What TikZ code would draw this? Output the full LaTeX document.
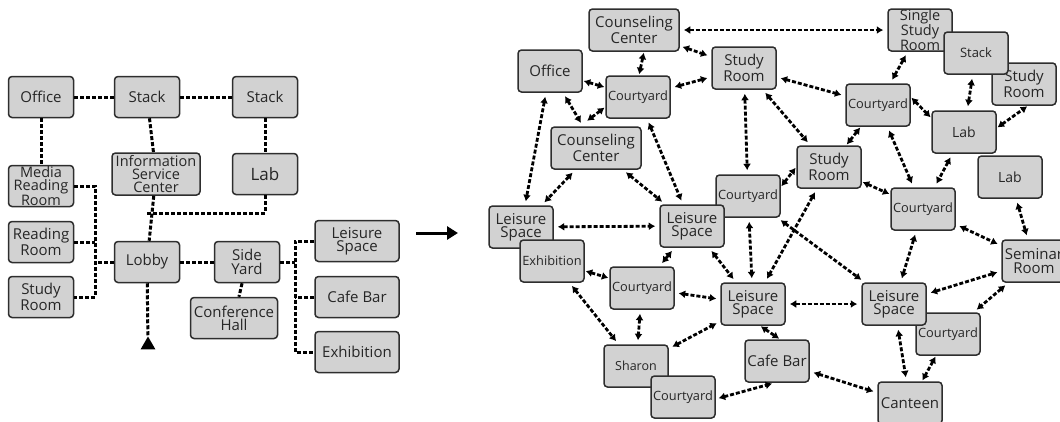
\documentclass[tikz,border=0pt]{standalone}
\usepackage{fontspec}
\setmainfont{Open Sans}
\usetikzlibrary{arrows.meta,shapes.geometric,calc}
\definecolor{boxfill}{HTML}{D2D2D2}
\definecolor{boxline}{HTML}{2E2E2E}
\definecolor{txt}{HTML}{262626}
\begin{document}
\begin{tikzpicture}[x=1pt,y=-1pt,
  box/.style={draw=boxline, fill=boxfill, line width=1.5pt, rounded corners=3.5pt,
    minimum width=64pt, minimum height=42pt, inner sep=0pt, align=center, text=txt,
    font=\fontsize{15}{13.3}\selectfont},
  three/.style={font=\fontsize{14.5}{13}\selectfont},
  lbox/.style={box, minimum width=65pt, minimum height=41pt},
  wbox/.style={box, minimum width=84pt, minimum height=41pt},
  sm/.style={font=\fontsize{12.8}{12}\selectfont},
  xs/.style={font=\fontsize{13}{12}\selectfont},
  lb/.style={font=\fontsize{14}{12}\selectfont},
  link/.style={line width=3pt, dash pattern=on 4pt off 2pt, draw=black},
  bi/.style={link, line width=2.8pt, {Latex[length=6.5pt,width=8pt]}-{Latex[length=6.5pt,width=8pt]},
    shorten <=4pt, shorten >=4pt},
  near/.style={shorten <=1pt, shorten >=1pt},
  bigarrow/.style={line width=3pt, -{Triangle[length=11pt,width=13pt]}}]
\useasboundingbox (0,0) rectangle (1060,421);

% ---------------- left diagram ----------------
\node[lbox] (office) at (41,97) {Office};
\node[lbox] (stack1) at (147,97) {Stack};
\node[lbox] (stack2) at (265,97) {Stack};
\node[lbox, three] (media) at (41,186) {Media\\Reading\\Room};
\node[lbox, three, minimum width=88pt, minimum height=42pt] (info) at (156,174) {Information\\Service\\Center};
\node[lbox, font=\fontsize{17}{13}\selectfont] (labl) at (265,174) {Lab};
\node[lbox] (reading) at (41,242) {Reading\\Room};
\node[lbox] (lobby) at (147,262) {Lobby};
\node[lbox] (side) at (247,262) {Side\\Yard};
\node[lbox] (studyl) at (41,297) {Study\\Room};
\node[lbox, minimum width=87pt] (conf) at (234,318) {Conference\\Hall};
\node[wbox] (leisl) at (357,241) {Leisure\\Space};
\node[wbox] (cafel) at (357,297) {Cafe Bar};
\node[wbox] (exhl) at (357,352) {Exhibition};
\node[regular polygon, regular polygon sides=3, fill=black, minimum size=17pt, inner sep=0pt] (tri) at (148,345) {};

\coordinate (jlab) at (147,213);
\coordinate (lbt) at (95,186);
\coordinate (lbb) at (95,297);
\coordinate (rbt) at (295,241);
\coordinate (rbb) at (295,352);

\draw[link] (office) -- (stack1);
\draw[link] (stack1) -- (stack2);
\draw[link] (office) -- (media);
\draw[link] (stack1) -- (info);
\draw[link] (stack2) -- (labl);
\draw[link] (labl) |- (jlab);
\draw[link] (info) -- (lobby);
\draw[link] (media) -- (lbt) -- (lbb) -- (studyl);
\draw[link] (reading) -- (reading -| lbt);
\draw[link] (lobby) -- (lobby -| lbt);
\draw[link] (lobby) -- (side);
\draw[link] (side) -- (conf);
\draw[link] (leisl) -- (rbt) -- (rbb) -- (exhl);
\draw[link] (cafel) -- (cafel -| rbt);
\draw[link] (side) -- (side -| rbt);
\draw[link] (lobby) -- (tri);

% ---------------- middle arrow ----------------
\coordinate (ma) at (416,233);
\coordinate (mb) at (458,233);
\draw[bigarrow] (ma) -- (mb);

% ---------------- right diagram ----------------
\node[box, minimum width=90pt] (cc1) at (634,30) {Counseling\\Center};
\node[box] (off2) at (550,71) {Office};
\node[box, sm] (cy1) at (638,97) {Courtyard};
\node[box] (sr1) at (744,68) {Study\\Room};
\node[box, minimum width=90pt] (cc2) at (596,148) {Counseling\\Center};
\node[box, sm] (cym) at (748,196) {Courtyard};
\node[box] (lsc) at (692,226) {Leisure\\Space};
\node[box] (srm) at (829,167) {Study\\Room};
\node[box, three] (ssr) at (920,30) {Single\\Study\\Room};
\node[box] (srr) at (1024,84) {Study\\Room};
\node[box, xs] (stk) at (976,53) {Stack};
\node[box, sm] (cyur) at (878,105) {Courtyard};
\node[box, lb] (lab1) at (964,132) {Lab};
\node[box, lb] (lab2) at (1010,177) {Lab};
\node[box, sm] (cyrm) at (923,209) {Courtyard};
\node[box] (sem) at (1034,261) {Seminar\\Room};
\node[box, sm] (cyrl) at (948,334) {Courtyard};
\node[box] (lsr) at (894,304) {Leisure\\Space};
\node[box] (cant) at (910,403) {Canteen};
\node[box] (cafe) at (777,361) {Cafe Bar};
\node[box] (lsl) at (521,227) {Leisure\\Space};
\node[box, sm] (exh) at (552,261) {Exhibition};
\node[box, sm] (cyml) at (642,288) {Courtyard};
\node[box] (lscl) at (753,304) {Leisure\\Space};
\node[box, font=\fontsize{12.5}{12}\selectfont] (shar) at (636,366) {Sharon};
\node[box, sm] (cyb) at (683,397) {Courtyard};

\draw[bi] (cc1) -- (ssr);
\draw[bi, shorten <=3pt] (cc1) -- (sr1);
\draw[bi, near] ($(cc1.south)+(10,0)$) -- ($(cy1.north)+(1,0)$);
\draw[bi, near] (off2) -- (cy1);
\draw[bi] (cy1) -- (sr1);
\draw[bi] (off2) -- (cc2);
\draw[bi, shorten <=1pt, shorten >=9pt] ($(cy1.west)+(0,10)$) -- ($(cc2.north)+(-16,0)$);
\draw[bi] (off2) -- (lsl);
\draw[bi] (cc2) -- (lsl);
\draw[bi] (cc2) -- (lsc);
\draw[bi] (cy1) -- (lsc);
\draw[bi] (sr1) -- (cym);
\draw[bi] (sr1) -- (cyur);
\draw[bi] (sr1) -- (srm);
\draw[bi] (cyur) -- (ssr);
\draw[bi, near] (cyur) -- (srm);
\draw[bi, near] ($(cyur.east)+(0,-8)$) -- ($(lab1.west)+(0,-14)$);
\draw[bi] (cyur) -- (cyrm);
\draw[bi] (lab1) -- (stk);
\draw[bi, near] ($(lab1.east)+(0,-4)$) -- ($(srr.south)+(4,0)$);
\draw[bi] (lab1) -- (cyrm);
\draw[bi, near] ($(cym.east)+(0,-9)$) -- (srm.west);
\draw[bi, near] (srm) -- (cyrm);
\draw[bi] (srm) -- (lscl);
\draw[bi] (cym) -- (lsr);
\draw[bi] (cym) -- (lscl);
\draw[bi] (lsc) -- (lscl);
\draw[bi] (lsc) -- (cyml);
\draw[bi] (lsl) -- (lsc);
\draw[bi, near] (exh) -- (cyml);
\draw[bi] (exh) -- (shar);
\draw[bi] (cyml) -- (shar);
\draw[bi] (cyml) -- (lscl);
\draw[bi] (shar) -- (lscl);
\draw[bi, shorten <=3pt, shorten >=3pt] ($(cyb.east)+(0,2)$) -- ($(cafe.south)+(-2,0)$);
\draw[bi, near] ($(lscl.south)+(7,0)$) -- ($(cafe.north)+(3,0)$);
\draw[bi] (lscl) -- (lsr);
\draw[bi] (cyrm) -- (lsr);
\draw[bi] (cyrm) -- (sem);
\draw[bi] (lab2) -- (sem);
\draw[bi] (sem) -- (lsr);
\draw[bi] (sem) -- (cyrl);
\draw[bi] (lsr) -- (cant);
\draw[bi, near] (cyrl) -- (cant);
\draw[bi] (cafe) -- (cant);
\end{tikzpicture}
\end{document}
